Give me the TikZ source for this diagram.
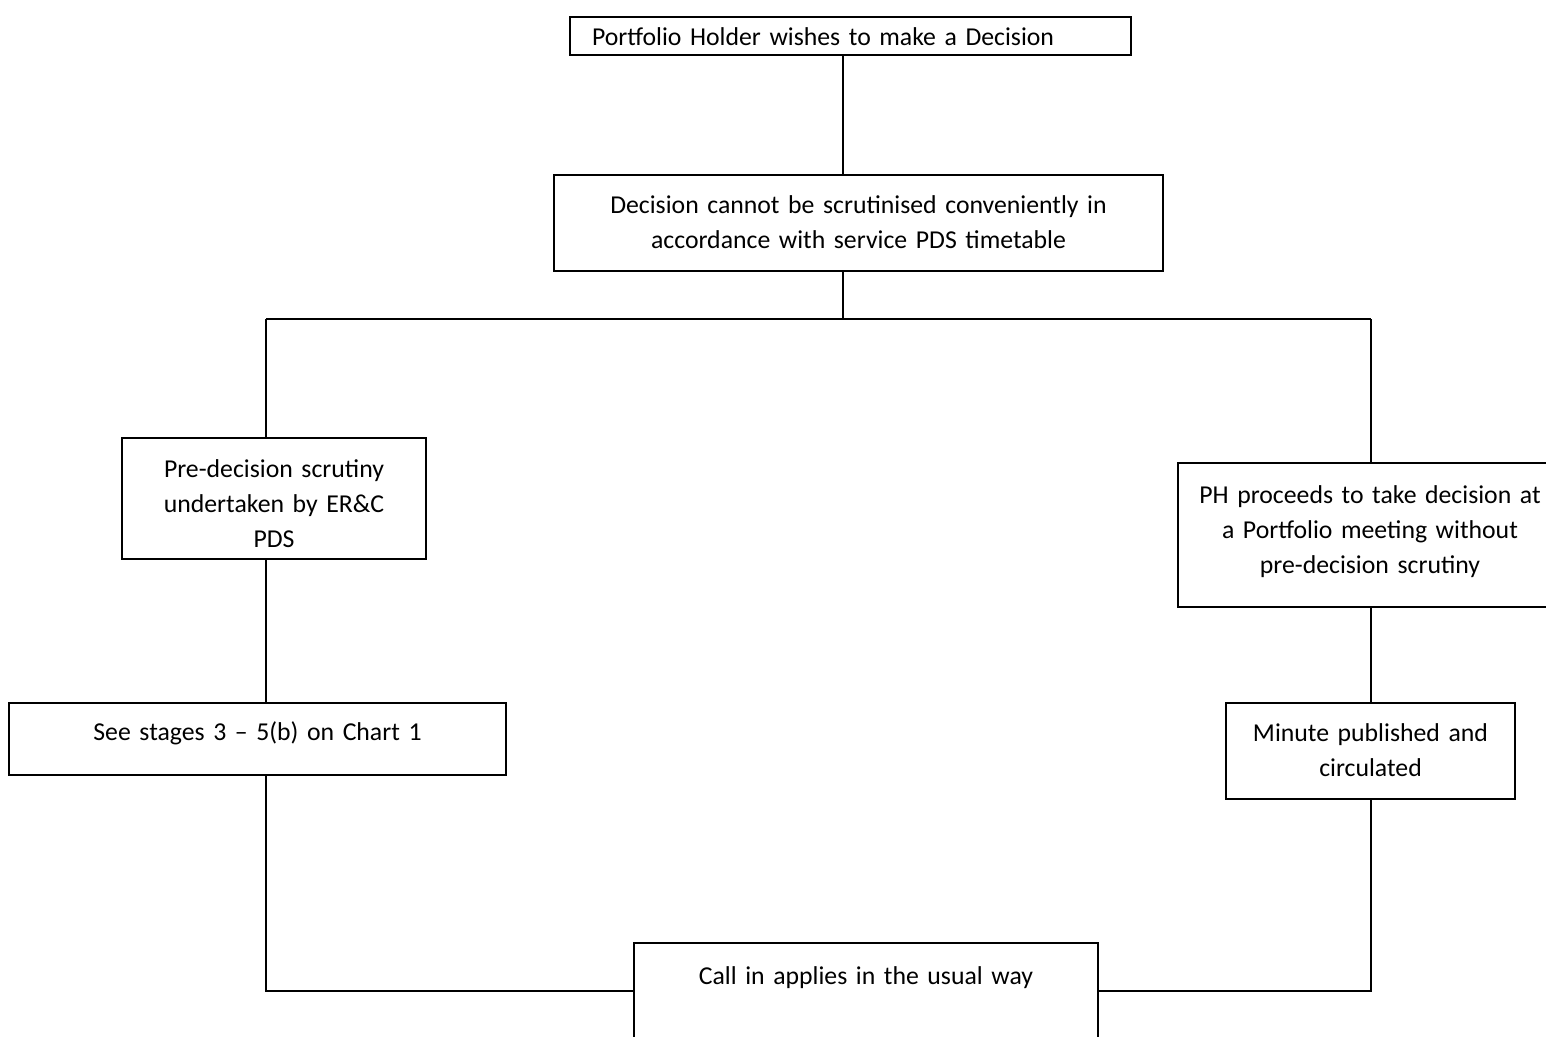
\documentclass[tikz,border=0pt]{standalone}
\usepackage{fontspec}
\setmainfont{Carlito}

\tikzset{
	stagebox/.style={draw, line width=0.8pt, inner ysep=0pt, inner xsep=0pt, align=center, anchor=base, font=\fontsize{10.3}{14}\selectfont},
	link/.style={line width=0.8pt}
}

\begin{document}
\begin{tikzpicture}[x=0.4pt, y=-0.4pt]
		\useasboundingbox (0,0) rectangle (1546,1036);
		
		\node[stagebox, align=left, inner xsep=8.8pt, text width=206.8pt, text height=11.2pt, text depth=4pt] (wish) at (850.5,45) {Portfolio Holder wishes to make a Decision};
		\node[stagebox, text width=243.6pt, text height=15.2pt, text depth=23.2pt] (cannot) at (858.5,213) {Decision cannot be scrutinised conveniently in\\accordance with service PDS timetable};
		\node[stagebox, text width=121.6pt, text height=15.6pt, text depth=32.8pt] (prescrutiny) at (274,477) {Pre-decision scrutiny\\undertaken by ER\&C\\PDS};
		\node[stagebox, text width=153.6pt, text height=16pt, text depth=41.6pt] (proceeds) at (1370,503) {PH proceeds to take decision at\\a Portfolio meeting without\\pre-decision scrutiny};
		\node[stagebox, text width=198.8pt, text height=14.8pt, text depth=14pt] (stages) at (257.5,740) {See stages 3 -- 5(b) on Chart 1};
		\node[stagebox, text width=115.6pt, text height=15.2pt, text depth=23.2pt] (minute) at (1370.5,741) {Minute published and\\circulated};
		\node[stagebox, text width=185.6pt, text height=16.4pt, text depth=26.4pt] (callin) at (866,984) {Call in applies in the usual way};
		
		\coordinate (fork) at (843,319);
		\coordinate (leftfork) at (266,319);
		\coordinate (rightfork) at (1371,319);
		\coordinate (merge) at (0,991);
		
		\draw[link] (wish.south -| fork) -- (cannot.north -| fork);
		\draw[link] (cannot.south -| fork) -- (fork);
		\draw[link] (leftfork) -- (rightfork);
		\draw[link] (leftfork) -- (prescrutiny.north -| leftfork);
		\draw[link] (rightfork) -- (proceeds.north -| rightfork);
		\draw[link] (prescrutiny.south -| leftfork) -- (stages.north -| leftfork);
		\draw[link] (proceeds.south -| rightfork) -- (minute.north -| rightfork);
		\draw[link] (stages.south -| leftfork) |- (callin.west |- merge);
		\draw[link] (minute.south -| rightfork) |- (callin.east |- merge);
	\end{tikzpicture}
\end{document}
